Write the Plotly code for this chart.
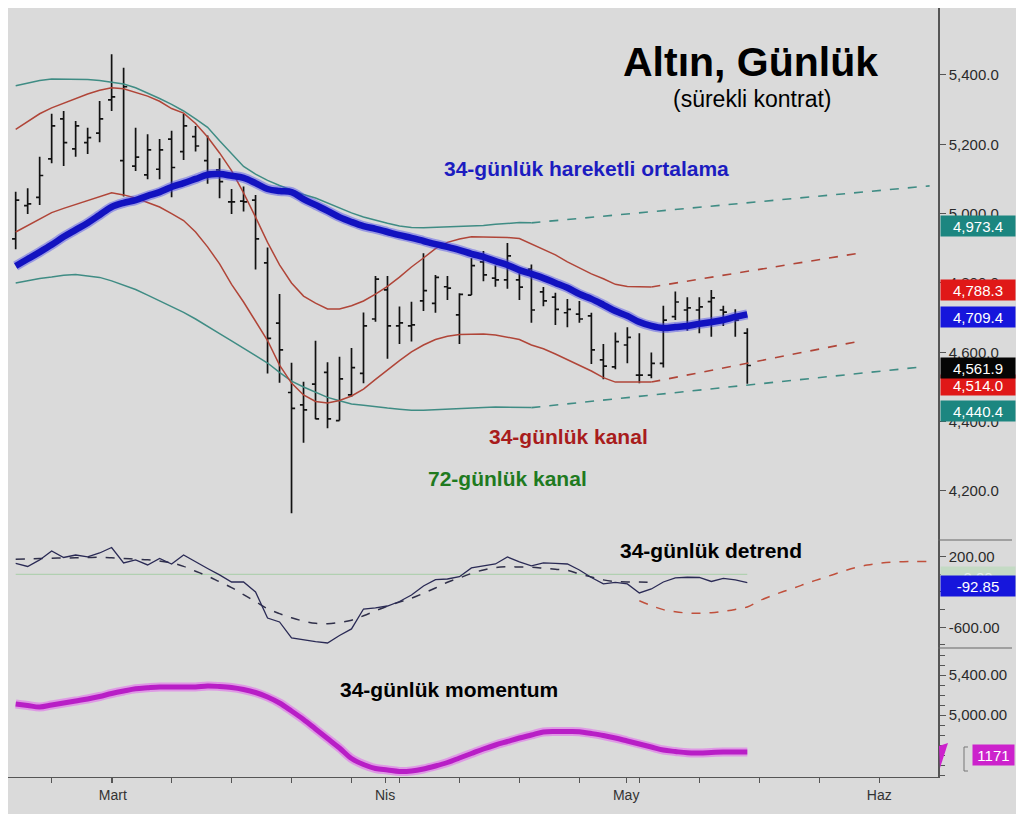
import plotly.graph_objects as go
from plotly.subplots import make_subplots

# ---------------- data (trading-day index, from 18 Feb 2026) ----------------
bar_idx = list(range(62))
open_ = [4927, 5023, 5047, 5158, 5273, 5187, 5205, 5232, 5328, 5153,
         5137, 5112, 5128, 5215, 5179, 5222, 5153, 5126, 5034, 5036,
         5039, 4858, 4684, 4484, 4448, 4508, 4542, 4403, 4477, 4539,
         4696, 4780, 4676, 4676, 4748, 4741, 4789, 4708, 4765, 4861,
         4814, 4809, 4809, 4840, 4774, 4759, 4714, 4710, 4705, 4578,
         4558, 4621, 4534, 4534, 4568, 4703, 4722, 4722, 4746, 4722,
         4696, 4655]
high = [5063, 5073, 5164, 5288, 5296, 5267, 5248, 5325, 5460, 5421,
        5248, 5229, 5215, 5239, 5288, 5253, 5225, 5160, 5071, 5078,
        5054, 4902, 4768, 4570, 4515, 4633, 4571, 4587, 4612, 4715,
        4820, 4820, 4732, 4746, 4886, 4823, 4820, 4770, 4872, 4892,
        4850, 4915, 4828, 4853, 4788, 4772, 4754, 4748, 4714, 4624,
        4657, 4672, 4655, 4599, 4734, 4775, 4759, 4759, 4780, 4734,
        4724, 4669]
low = [4897, 4999, 5025, 5145, 5137, 5164, 5172, 5206, 5296, 5049,
       5123, 5099, 5099, 5047, 5155, 5179, 5086, 5044, 4999, 5006,
       4839, 4539, 4512, 4136, 4339, 4407, 4381, 4403, 4472, 4511,
       4688, 4581, 4624, 4631, 4719, 4714, 4751, 4624, 4765, 4805,
       4789, 4783, 4751, 4685, 4733, 4679, 4672, 4685, 4566, 4522,
       4551, 4568, 4511, 4525, 4556, 4693, 4662, 4655, 4645, 4676,
       4645, 4509]
close = [5039, 5028, 5110, 5253, 5205, 5253, 5219, 5273, 5337, 5366,
         5163, 5184, 5184, 5133, 5253, 5195, 5120, 5092, 5034, 5034,
         4927, 4640, 4607, 4438, 4434, 4408, 4408, 4523, 4556, 4676,
         4811, 4676, 4685, 4679, 4778, 4816, 4785, 4767, 4850, 4823,
         4809, 4878, 4788, 4722, 4748, 4724, 4724, 4696, 4607, 4560,
         4631, 4643, 4534, 4568, 4693, 4745, 4728, 4731, 4757, 4716,
         4693, 4561.9]

ma34 = [4849, 4869, 4889, 4910, 4933, 4953, 4973, 4996, 5019, 5031,
        5039, 5051, 5062, 5077, 5088, 5100, 5112, 5114, 5109, 5103,
        5088, 5071, 5065, 5062, 5042, 5025, 5008, 4990, 4976, 4964,
        4956, 4947, 4938, 4930, 4921, 4912, 4904, 4895, 4884, 4875,
        4863, 4852, 4837, 4826, 4814, 4800, 4786, 4768, 4754, 4737,
        4719, 4705, 4687, 4676, 4670, 4673, 4676, 4682, 4687, 4693,
        4702, 4709.4]

ch34_upper = [5243, 5266, 5288, 5305, 5319, 5332, 5345, 5356, 5363, 5360,
              5350, 5339, 5324, 5303, 5290, 5260, 5221, 5175, 5124, 5060,
              4990, 4917, 4852, 4800, 4762, 4742, 4725, 4725, 4734, 4748,
              4768, 4790, 4817, 4846, 4872, 4899, 4917, 4927, 4933, 4933,
              4933, 4931, 4928, 4912, 4895, 4881, 4861, 4843, 4826, 4812,
              4796, 4790, 4789, 4788.3]
ch34_lower = [4947, 4966, 4985, 5003, 5015, 5026, 5038, 5048, 5060, 5054,
              5045, 5032, 5019, 5000, 4980, 4947, 4904, 4855, 4796, 4745,
              4690, 4634, 4563, 4511, 4477, 4458, 4454, 4461, 4474, 4494,
              4522, 4550, 4576, 4601, 4621, 4637, 4646, 4651, 4651, 4653,
              4650, 4644, 4637, 4621, 4610, 4595, 4579, 4563, 4546, 4527,
              4514, 4514, 4514, 4514.0]
ch72_upper = [5369, 5377, 5384, 5388, 5388, 5388, 5387, 5384, 5380, 5374,
              5363, 5348, 5332, 5315, 5296, 5273, 5249, 5210, 5172, 5136,
              5114, 5096, 5081, 5068, 5055, 5045, 5031, 5015, 5002, 4990,
              4980, 4972, 4964, 4960, 4959, 4960, 4962, 4963, 4964, 4966,
              4969, 4972, 4974, 4973.4]
ch72_lower = [4800, 4807, 4813, 4817, 4822, 4824, 4820, 4816, 4806, 4794,
              4781, 4765, 4749, 4732, 4715, 4696, 4676, 4654, 4633, 4611,
              4589, 4569, 4542, 4517, 4500, 4484, 4470, 4460, 4451, 4447,
              4442, 4439, 4436, 4433, 4433, 4435, 4436, 4438, 4439, 4441,
              4442, 4442, 4441, 4440.4]

proj34_idx = [53, 70.5]
proj34_upper = [4788.3, 4887]
proj34_lower = [4514.0, 4633]
proj72_upper_idx = [43, 76.2]
proj72_upper = [4973.4, 5080]
proj72_lower_idx = [43, 75.6]
proj72_lower = [4440.4, 4558]

detrend = [123, 89, 163, 265, 191, 219, 197, 242, 304, 129,
           163, 106, 180, 117, 219, 140, 66, -7, -87, -87,
           -200, -495, -540, -721, -744, -763, -778, -693, -619, -393,
           -381, -359, -308, -234, -132, -61, -53, -27, 72, 95,
           117, 197, 140, 95, 129, 123, 117, 49, -36, -109,
           -92, -109, -211, -166, -87, -41, -33, -36, -81, -45,
           -64, -92.85]
detrend_ma = [171, 175, 179, 182, 185, 187, 190, 193, 188, 180,
              172, 165, 150, 131, 90, 35, -20, -85, -150, -230,
              -310, -390, -445, -493, -530, -555, -560, -545, -520, -470,
              -415, -360, -315, -270, -215, -155, -90, -40, 10, 50,
              77, 85, 83, 80, 70, 58, 45, 5, -30, -63,
              -82, -86, -88, -90]
detrend_proj_idx = list(range(52, 77))
detrend_proj = [-300, -355, -400, -425, -438, -441, -435, -420, -398, -370,
                -300, -245, -195, -150, -100, -55, -10, 35, 75, 105,
                125, 138, 143, 145, 145]

momentum = [5110, 5095, 5080, 5100, 5120, 5140, 5160, 5185, 5215, 5240,
            5262, 5272, 5280, 5280, 5280, 5280, 5290, 5285, 5275, 5255,
            5225, 5180, 5120, 5040, 4955, 4860, 4765, 4670, 4565, 4505,
            4465, 4450, 4435, 4440, 4460, 4490, 4525, 4570, 4615, 4660,
            4700, 4735, 4770, 4800, 4830, 4835, 4835, 4833, 4815, 4795,
            4770, 4740, 4710, 4680, 4650, 4635, 4622, 4620, 4625, 4630,
            4630, 4630]

month_pos = [8.1, 30.8, 50.9, 72.0]
month_labels = ["Mart", "Nis", "May", "Haz"]
week_pos = [3, 8, 13, 18, 23, 28, 32, 37, 42, 47, 52, 57, 62, 67, 72]

price_ticks = [4200, 4400, 4600, 4800, 5000, 5200, 5400]
detrend_ticks = [200, -600]
detrend_ticktext = ["200.00", "-600.00"]
mom_ticks = [5000, 5400]
mom_ticktext = ["5,000.00", "5,400.00"]

# ---------------- figure ----------------
FONT = "Liberation Sans, Arial, sans-serif"
BG = "#dadada"
RED = "#b04538"
TEAL = "#3f8c84"

fig = make_subplots(rows=3, cols=1, shared_xaxes=True, vertical_spacing=0,
                    row_heights=[532, 108, 129])

n34 = list(range(len(ch34_upper)))
n72 = list(range(len(ch72_upper)))

# channels
fig.add_trace(go.Scatter(x=n72, y=ch72_upper, mode="lines", line=dict(color=TEAL, width=1.5)), 1, 1)
fig.add_trace(go.Scatter(x=n72, y=ch72_lower, mode="lines", line=dict(color=TEAL, width=1.5)), 1, 1)
fig.add_trace(go.Scatter(x=proj72_upper_idx, y=proj72_upper, mode="lines",
                         line=dict(color=TEAL, width=1.6, dash="dash")), 1, 1)
fig.add_trace(go.Scatter(x=proj72_lower_idx, y=proj72_lower, mode="lines",
                         line=dict(color=TEAL, width=1.6, dash="dash")), 1, 1)
fig.add_trace(go.Scatter(x=n34, y=ch34_upper, mode="lines", line=dict(color=RED, width=1.5)), 1, 1)
fig.add_trace(go.Scatter(x=n34, y=ch34_lower, mode="lines", line=dict(color=RED, width=1.5)), 1, 1)
fig.add_trace(go.Scatter(x=proj34_idx, y=proj34_upper, mode="lines",
                         line=dict(color=RED, width=1.6, dash="dash")), 1, 1)
fig.add_trace(go.Scatter(x=proj34_idx, y=proj34_lower, mode="lines",
                         line=dict(color=RED, width=1.6, dash="dash")), 1, 1)

# price bars
fig.add_trace(go.Ohlc(x=bar_idx, open=open_, high=high, low=low, close=close,
                      increasing=dict(line=dict(color="#111111", width=1.7)),
                      decreasing=dict(line=dict(color="#111111", width=1.7)),
                      tickwidth=0.3), 1, 1)

# 34-day moving average (thick blue with glow)
fig.add_trace(go.Scatter(x=bar_idx, y=ma34, mode="lines",
                         line=dict(color="rgba(70,70,235,0.45)", width=10, shape="spline")), 1, 1)
fig.add_trace(go.Scatter(x=bar_idx, y=ma34, mode="lines",
                         line=dict(color="#1212c0", width=6.5, shape="spline")), 1, 1)

# detrend panel
fig.add_trace(go.Scatter(x=bar_idx, y=[0] * len(bar_idx), mode="lines",
                         line=dict(color="#a9cfa9", width=1)), 2, 1)
fig.add_trace(go.Scatter(x=list(range(len(detrend_ma))), y=detrend_ma, mode="lines",
                         line=dict(color="#30304a", width=1.5, dash="dash", shape="spline")), 2, 1)
fig.add_trace(go.Scatter(x=bar_idx, y=detrend, mode="lines",
                         line=dict(color="#2a2a55", width=1.3)), 2, 1)
fig.add_trace(go.Scatter(x=detrend_proj_idx, y=detrend_proj, mode="lines",
                         line=dict(color="#c0503c", width=1.5, dash="dash", shape="spline")), 2, 1)

# momentum panel
fig.add_trace(go.Scatter(x=bar_idx, y=momentum, mode="lines",
                         line=dict(color="rgba(225,110,235,0.6)", width=9, shape="spline")), 3, 1)
fig.add_trace(go.Scatter(x=bar_idx, y=momentum, mode="lines",
                         line=dict(color="#b81ec6", width=5, shape="spline")), 3, 1)

# ---------------- axes ----------------
axis_col = "#555555"
fig.update_xaxes(range=[-0.64, 76.9], showgrid=False, zeroline=False,
                 rangeslider_visible=False, fixedrange=True)
fig.update_xaxes(showticklabels=False, ticks="", row=1, col=1)
fig.update_xaxes(showticklabels=False, ticks="", row=2, col=1)
fig.update_xaxes(row=3, col=1, showline=True, linecolor=axis_col, linewidth=1.2,
                 ticks="outside", ticklen=5, tickcolor=axis_col,
                 tickmode="array", tickvals=month_pos, ticktext=month_labels,
                 tickfont=dict(size=14, color="#333333", family=FONT),
                 minor=dict(tickmode="array", tickvals=week_pos, ticks="outside",
                            ticklen=5, tickcolor=axis_col))

yax_common = dict(side="right", showgrid=False, zeroline=False, showline=True,
                  linecolor=axis_col, linewidth=1.5, ticks="outside", ticklen=6,
                  tickcolor=axis_col, tickfont=dict(size=15, color="#2a2a2a", family=FONT),
                  fixedrange=True)
fig.update_yaxes(row=1, col=1, range=[4058.5, 5593.1], tickmode="array",
                 tickvals=price_ticks, tickformat=",.1f", **yax_common)
fig.update_yaxes(row=2, col=1, range=[-835, 389], tickmode="array",
                 tickvals=detrend_ticks, ticktext=detrend_ticktext,
                 minor=dict(tickmode="array", tickvals=[-400, -200, 0, -800], ticks="outside",
                            ticklen=5, tickcolor=axis_col), **yax_common)
fig.update_yaxes(row=3, col=1, range=[4380, 5670], tickmode="array",
                 tickvals=mom_ticks, ticktext=mom_ticktext,
                 minor=dict(dtick=100, ticks="outside", ticklen=5, tickcolor=axis_col),
                 **yax_common)

# ---------------- layout ----------------
# the page body adds an 8px offset; plot area spans page x 8..938, y 8..777
PAGE_OFF = 8
L, R, T, B = 0, 80, 0, 37
W, H = 1010, 806
PW, PH = W - L - R, H - T - B


def px(xp):
    return (xp - PAGE_OFF - L) / PW


def py(yp):
    return (PAGE_OFF + T + PH - yp) / PH


annotations = []


def text(xp, yp, s, size, color="#000000", bold=True):
    annotations.append(dict(xref="paper", yref="paper", x=px(xp), y=py(yp),
                            text=("<b>%s</b>" % s) if bold else s,
                            showarrow=False, xanchor="center", yanchor="middle",
                            font=dict(size=size, color=color, family=FONT)))


text(750, 62, "Altın, Günlük", 41)
text(752, 99, "(sürekli kontrat)", 23, bold=False)
text(586, 168, "34-günlük hareketli ortalama", 21, "#1c1cc0")
text(568, 436, "34-günlük kanal", 21, "#a81c1c")
text(508, 478, "72-günlük kanal", 21, "#1f7a1f")
text(711, 550, "34-günlük detrend", 21)
text(449, 689, "34-günlük momentum", 21)


def badge(yref, val, label, color, fcolor="white", xshift=2, width=71):
    annotations.append(dict(xref="paper", yref=yref, x=1, y=val, xanchor="left", yanchor="middle",
                            xshift=xshift, yshift=-3, text=label, showarrow=False,
                            bgcolor=color, width=width, height=17, borderpad=1.5, align="center",
                            font=dict(size=15, color=fcolor, family=FONT)))


badge("y", 4973.4, "4,973.4", "#1c8680")
badge("y", 4788.3, "4,788.3", "#e01818")
badge("y", 4709.4, "4,709.4", "#1616dc")
badge("y", 4440.4, "4,440.4", "#1c8680")
badge("y", 4514.0, "4,514.0", "#e01818")
badge("y", 4561.9, "4,561.9", "#050505")
badge("y2", 0, "0.00", "#c4dac4", fcolor="#e8f0e8")
badge("y2", -92.85, "-92.85", "#1616dc")
badge("y3", 4630, "1171", "#cc22cc", xshift=34, width=38)

shapes = []
# panel separators in the axis area
for yp in (540, 648):
    shapes.append(dict(type="line", xref="paper", yref="paper", x0=1, x1=px(1012),
                       y0=py(yp), y1=py(yp), line=dict(color="#666666", width=1.2)))
# small marker pieces next to the momentum badge
shapes.append(dict(type="path", xref="paper", yref="paper",
                   path="M %f %f L %f %f L %f %f Z" % (px(939), py(746), px(948), py(743), px(940), py(768)),
                   fillcolor="#cc22cc", line=dict(width=0)))
shapes.append(dict(type="path", xref="paper", yref="paper",
                   path="M %f %f L %f %f L %f %f L %f %f" % (px(968), py(747), px(964), py(747),
                                                             px(964), py(771), px(968), py(771)),
                   line=dict(color="#777777", width=1)))

fig.update_layout(width=W, height=H, margin=dict(l=L, r=R, t=T, b=B),
                  paper_bgcolor=BG, plot_bgcolor=BG, showlegend=False,
                  hovermode=False, annotations=annotations, shapes=shapes,
                  font=dict(family=FONT))

fig.write_html("out.html")
